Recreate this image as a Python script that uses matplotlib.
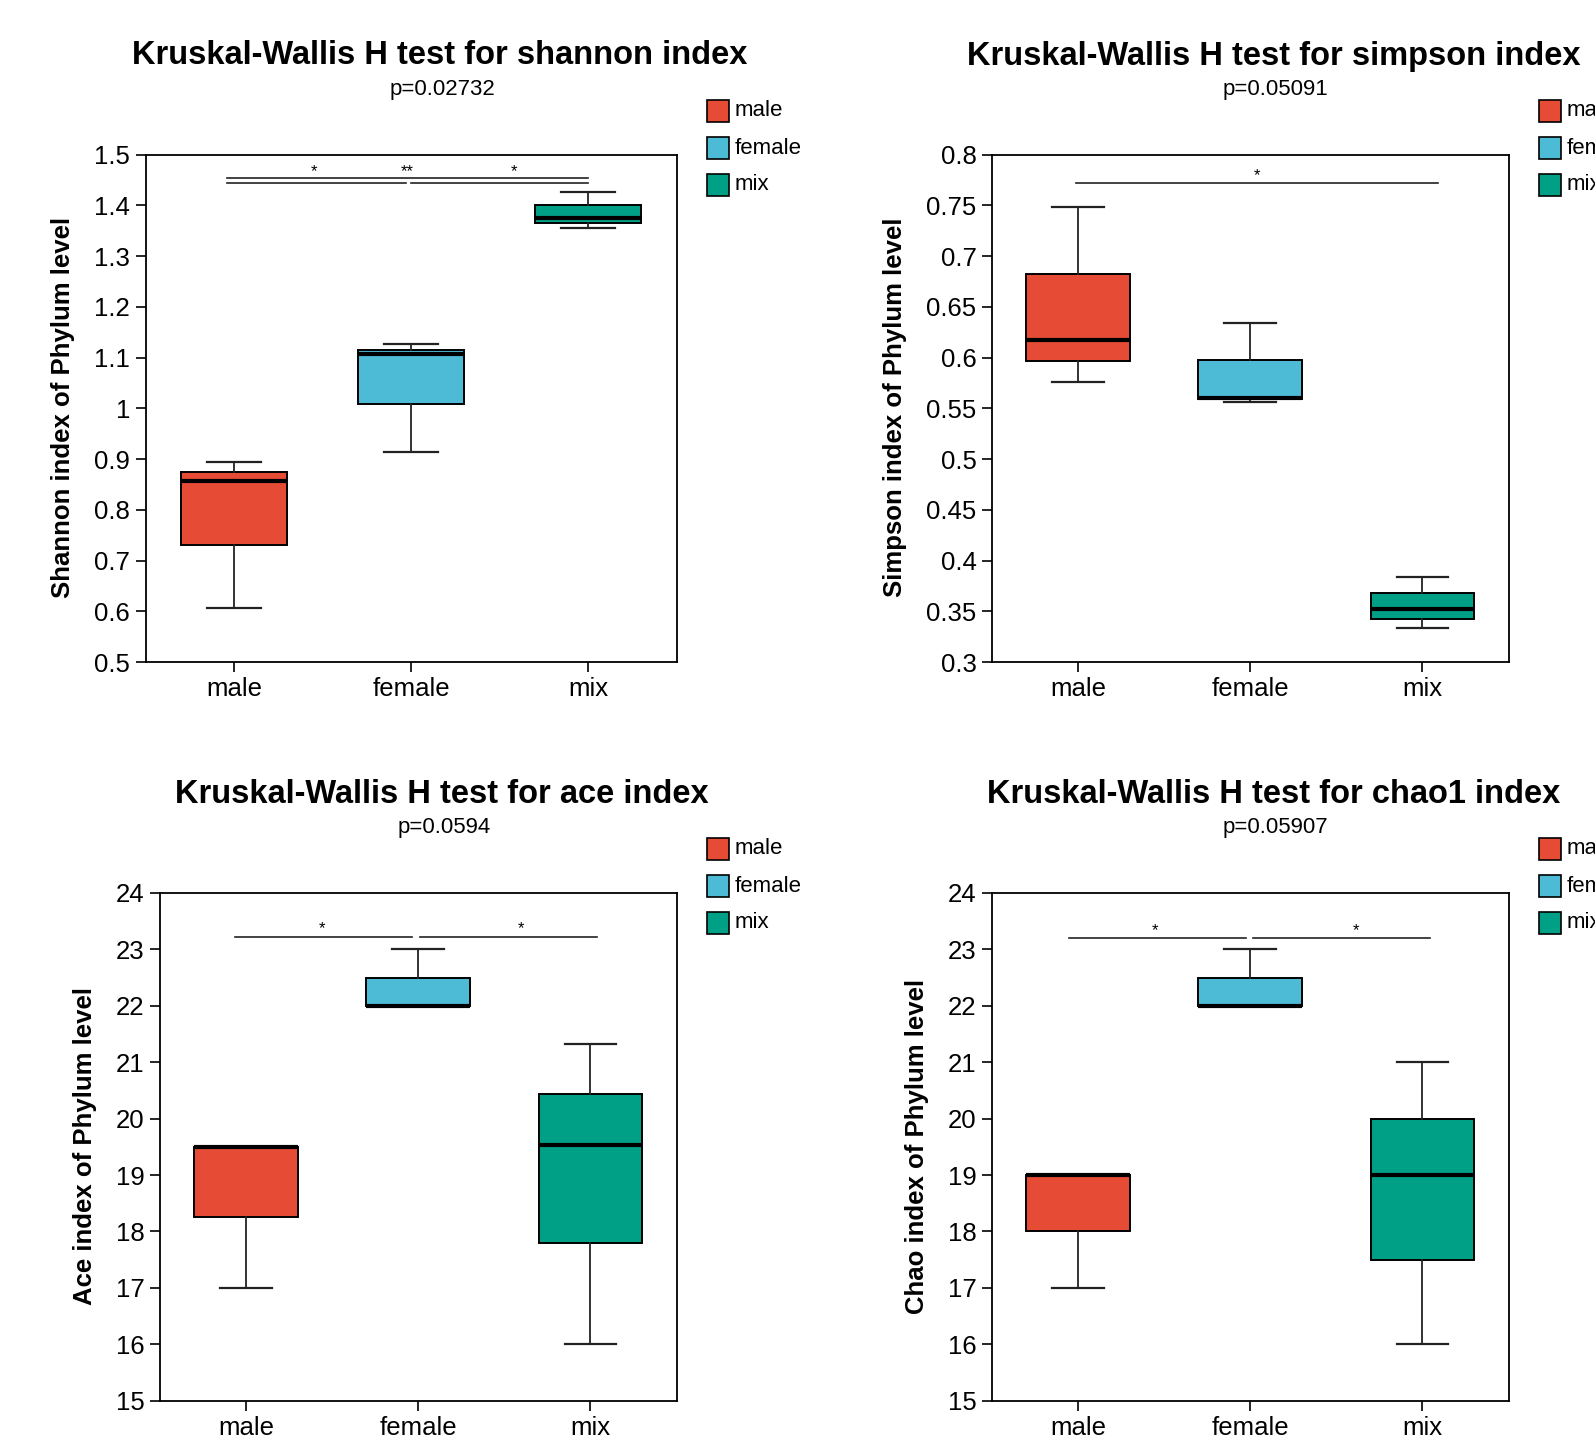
import matplotlib
matplotlib.use("Agg")
import matplotlib.pyplot as plt
from matplotlib.patches import Rectangle

plt.rcParams['font.family'] = ['Liberation Sans', 'DejaVu Sans']

W, H = 1595, 1441

groups = ['male', 'female', 'mix']
colors = ['#E64B35', '#4DBBD5', '#00A087']

# box stats: low whisker, Q1, median, Q3, high whisker
shannon_low = [0.606, 0.915, 1.356]
shannon_q1 = [0.730, 1.009, 1.366]
shannon_med = [0.857, 1.107, 1.376]
shannon_q3 = [0.875, 1.115, 1.400]
shannon_high = [0.895, 1.127, 1.426]

simpson_low = [0.576, 0.5565, 0.334]
simpson_q1 = [0.597, 0.559, 0.343]
simpson_med = [0.617, 0.5605, 0.352]
simpson_q3 = [0.682, 0.598, 0.368]
simpson_high = [0.748, 0.634, 0.384]

ace_low = [17.0, 22.0, 16.0]
ace_q1 = [18.25, 22.0, 17.79]
ace_med = [19.5, 22.0, 19.54]
ace_q3 = [19.5, 22.5, 20.43]
ace_high = [19.5, 23.0, 21.33]

chao_low = [17.0, 22.0, 16.0]
chao_q1 = [18.0, 22.0, 17.5]
chao_med = [19.0, 22.0, 19.0]
chao_q3 = [19.0, 22.5, 20.0]
chao_high = [19.0, 23.0, 21.0]

# significance bars: start, end, height, label, label x, label y
shannon_sig_x1 = [0.96, 0.96, 2.0]
shannon_sig_x2 = [1.97, 3.0, 3.0]
shannon_sig_y = [1.444, 1.454, 1.444]
shannon_sig_lab = ['*', '**', '*']
shannon_sig_lx = [1.45, 1.98, 2.58]
shannon_sig_ly = 1.466

simpson_sig_x1 = [0.99]
simpson_sig_x2 = [3.09]
simpson_sig_y = [0.772]
simpson_sig_lab = ['*']
simpson_sig_lx = [2.04]
simpson_sig_ly = 0.7795

ace_sig_x1 = [0.94, 2.01]
ace_sig_x2 = [1.965, 3.04]
ace_sig_y = [23.22, 23.22]
ace_sig_lab = ['*', '*']
ace_sig_lx = [1.44, 2.60]
ace_sig_ly = 23.36

chao_sig_x1 = [0.947, 2.018]
chao_sig_x2 = [1.976, 3.047]
chao_sig_y = [23.2, 23.2]
chao_sig_lab = ['*', '*']
chao_sig_lx = [1.45, 2.615]
chao_sig_ly = 23.34

shannon_ticks = [0.5, 0.6, 0.7, 0.8, 0.9, 1.0, 1.1, 1.2, 1.3, 1.4, 1.5]
shannon_tlab = ['0.5', '0.6', '0.7', '0.8', '0.9', '1', '1.1', '1.2', '1.3', '1.4', '1.5']
simpson_ticks = [0.3, 0.35, 0.4, 0.45, 0.5, 0.55, 0.6, 0.65, 0.7, 0.75, 0.8]
simpson_tlab = ['0.3', '0.35', '0.4', '0.45', '0.5', '0.55', '0.6', '0.65', '0.7', '0.75', '0.8']
count_ticks = [15, 16, 17, 18, 19, 20, 21, 22, 23, 24]
count_tlab = [str(t) for t in count_ticks]

panels = [
    dict(title='Kruskal-Wallis H test for shannon index', p='p=0.02732',
         ylabel='Shannon index of Phylum level',
         stats=(shannon_low, shannon_q1, shannon_med, shannon_q3, shannon_high),
         sig=(shannon_sig_x1, shannon_sig_x2, shannon_sig_y, shannon_sig_lab, shannon_sig_lx, shannon_sig_ly),
         ticks=shannon_ticks, tlab=shannon_tlab, ylim=(0.5, 1.5),
         box=(145.5, 154.6, 676.5, 662.2), tx=440, ty=56, py=89.5, ylx=63, yly=407,
         lx=707, ly=111),
    dict(title='Kruskal-Wallis H test for simpson index', p='p=0.05091',
         ylabel='Simpson index of Phylum level',
         stats=(simpson_low, simpson_q1, simpson_med, simpson_q3, simpson_high),
         sig=(simpson_sig_x1, simpson_sig_x2, simpson_sig_y, simpson_sig_lab, simpson_sig_lx, simpson_sig_ly),
         ticks=simpson_ticks, tlab=simpson_tlab, ylim=(0.3, 0.8),
         box=(991.8, 154.6, 1508.5, 662.2), tx=1273.5, ty=56, py=89.5, ylx=895, yly=407,
         lx=1539, ly=111),
    dict(title='Kruskal-Wallis H test for ace index', p='p=0.0594',
         ylabel='Ace index of Phylum level',
         stats=(ace_low, ace_q1, ace_med, ace_q3, ace_high),
         sig=(ace_sig_x1, ace_sig_x2, ace_sig_y, ace_sig_lab, ace_sig_lx, ace_sig_ly),
         ticks=count_ticks, tlab=count_tlab, ylim=(15, 24),
         box=(159.7, 893, 676.5, 1400.7), tx=442, ty=794, py=828, ylx=85.5, yly=1146,
         lx=707, ly=849),
    dict(title='Kruskal-Wallis H test for chao1 index', p='p=0.05907',
         ylabel='Chao index of Phylum level',
         stats=(chao_low, chao_q1, chao_med, chao_q3, chao_high),
         sig=(chao_sig_x1, chao_sig_x2, chao_sig_y, chao_sig_lab, chao_sig_lx, chao_sig_ly),
         ticks=count_ticks, tlab=count_tlab, ylim=(15, 24),
         box=(991.8, 893, 1508.5, 1400.7), tx=1273.5, ty=794, py=828, ylx=917.5, yly=1146,
         lx=1539, ly=849),
]


def fx(x):
    return x / W


def fy(y):
    return 1 - y / H


fig = plt.figure(figsize=(W / 100, H / 100), dpi=100)

for pn in panels:
    x0, y0, x1, y1 = pn['box']
    ax = fig.add_axes([fx(x0), fy(y1), (x1 - x0) / W, (y1 - y0) / H])
    low, q1, med, q3, high = pn['stats']
    bstats = []
    for i in range(3):
        bstats.append(dict(whislo=low[i], q1=q1[i], med=med[i], q3=q3[i], whishi=high[i], fliers=[]))
    bp = ax.bxp(bstats, positions=[1, 2, 3], widths=0.6, capwidths=0.3, patch_artist=True,
                showfliers=False,
                boxprops=dict(edgecolor='black', linewidth=1.4),
                medianprops=dict(color='black', linewidth=3.0),
                whiskerprops=dict(color='#222222', linewidth=1.3),
                capprops=dict(color='#222222', linewidth=1.6))
    for patch, c in zip(bp['boxes'], colors):
        patch.set_facecolor(c)

    sx1, sx2, sy, slab, slx, sly = pn['sig']
    for a, b, yy in zip(sx1, sx2, sy):
        ax.plot([a, b], [yy, yy], color='#222222', lw=1.2)
    for lab, xx in zip(slab, slx):
        ax.text(xx, sly, lab, ha='center', va='center', fontsize=12)

    ax.set_xlim(0.5, 3.5)
    ax.set_ylim(*pn['ylim'])
    ax.set_yticks(pn['ticks'])
    ax.set_yticklabels(pn['tlab'])
    ax.set_xticks([1, 2, 3])
    ax.set_xticklabels(groups)
    ax.tick_params(axis='both', direction='out', length=7, width=1.2, labelsize=18.5, pad=4,
                   top=False, right=False)
    for s in ax.spines.values():
        s.set_linewidth(1.3)

    fig.text(fx(pn['tx']), fy(pn['ty']), pn['title'], ha='center', va='center',
             fontsize=23.5, fontweight='bold')
    fig.text(fx(pn['tx']) + 2 / W, fy(pn['py']), pn['p'], ha='center', va='center', fontsize=16)
    fig.text(fx(pn['ylx']), fy(pn['yly']), pn['ylabel'], ha='center', va='center',
             rotation=90, fontsize=18.5, fontweight='bold')

    for i, (g, c) in enumerate(zip(groups, colors)):
        yc = pn['ly'] + i * 37
        fig.patches.append(Rectangle((fx(pn['lx']), fy(yc + 11)), 22 / W, 22 / H,
                                     transform=fig.transFigure, facecolor=c,
                                     edgecolor='black', linewidth=1.2))
        fig.text(fx(pn['lx'] + 28), fy(yc), g, ha='left', va='center', fontsize=16)

fig.savefig('out.png', dpi=100)
